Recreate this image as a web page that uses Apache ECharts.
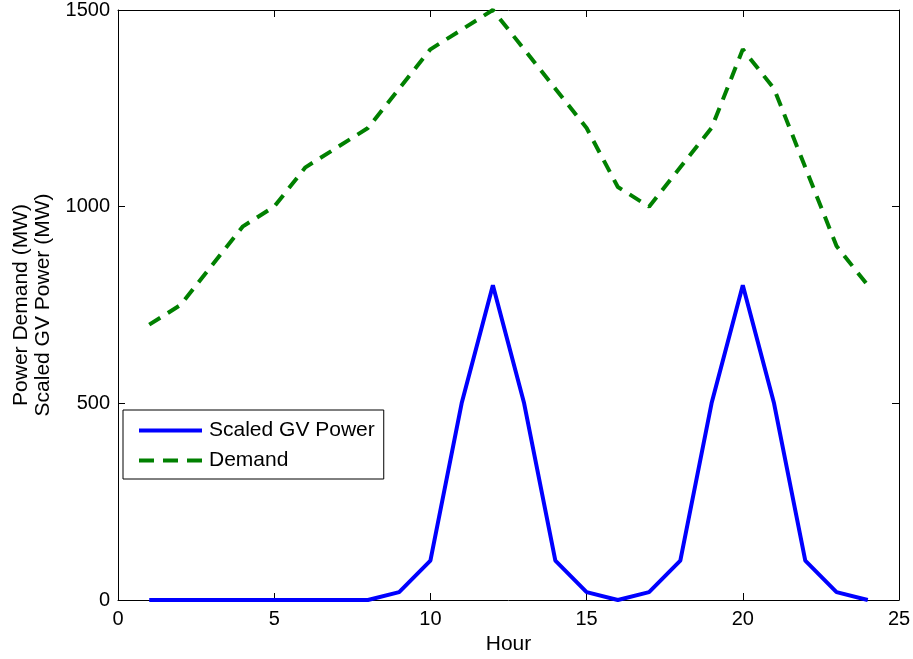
<!DOCTYPE html>
<html>
<head>
<meta charset="utf-8">
<script src="https://cdn.jsdelivr.net/npm/echarts@6/dist/echarts.min.js"></script>
<style>
html,body{margin:0;padding:0;background:#fff;}
#chart{width:913px;height:659px;}
</style>
</head>
<body>
<div id="chart"></div>
<script>
const hours = [1,2,3,4,5,6,7,8,9,10,11,12,13,14,15,16,17,18,19,20,21,22,23,24];
const gvPower = [0,0,0,0,0,0,0,0,20,100,500,800,500,100,20,0,20,100,500,800,500,100,20,0];
const demand = [700,750,850,950,1000,1100,1150,1200,1300,1400,1450,1500,1400,1300,1200,1050,1000,1100,1200,1400,1300,1100,900,800];
const xTicks = [0,5,10,15,20,25];
const yTicks = [0,500,1000,1500];

const FONT = '"Liberation Sans", Arial, Helvetica, sans-serif';
const chart = echarts.init(document.getElementById('chart'), null, {renderer:'canvas'});

const axisCommon = {
  axisLine:{show:true, onZero:false, lineStyle:{color:'#000', width:1}},
  axisTick:{show:true, inside:true, length:7, lineStyle:{color:'#000', width:1}},
  splitLine:{show:false}
};

chart.setOption({
  animation:false,
  backgroundColor:'#fff',
  grid:{left:118, right:14, top:10, bottom:59, containLabel:false, outerBoundsMode:'none'},
  legend:{
    left:123, top:410, orient:'vertical',
    data:[
      {name:'Scaled GV Power', lineStyle:{width:4, type:'solid'}},
      {name:'Demand', lineStyle:{width:4, type:[15,9]}}
    ],
    itemWidth:63, itemHeight:20, itemGap:9,
    padding:[10,9,8,14],
    borderColor:'#000', borderWidth:1, backgroundColor:'#fff',
    itemStyle:{opacity:0},
    textStyle:{fontFamily:FONT, fontSize:21, color:'#000', lineHeight:20, padding:[0,0,0,2]}
  },
  xAxis:[
    Object.assign({type:'value', position:'bottom', min:xTicks[0], max:xTicks[xTicks.length-1], interval:5,
      name:'Hour', nameLocation:'middle', nameGap:33,
      nameTextStyle:{fontFamily:FONT, fontSize:21, color:'#000'},
      axisLabel:{fontFamily:FONT, fontSize:20, color:'#000', margin:9, formatter:v=>String(v)}}, axisCommon),
    Object.assign({type:'value', position:'top', min:xTicks[0], max:xTicks[xTicks.length-1], interval:5,
      axisLabel:{show:false}}, axisCommon)
  ],
  yAxis:[
    Object.assign({type:'value', position:'left', min:yTicks[0], max:yTicks[yTicks.length-1], interval:500,
      name:'Power Demand (MW)\nScaled GV Power (MW)', nameLocation:'middle', nameGap:64, nameRotate:90,
      nameTextStyle:{fontFamily:FONT, fontSize:21, color:'#000', lineHeight:22},
      axisLabel:{fontFamily:FONT, fontSize:20, color:'#000', margin:8, formatter:v=>String(v)}}, axisCommon),
    Object.assign({type:'value', position:'right', min:yTicks[0], max:yTicks[yTicks.length-1], interval:500,
      axisLabel:{show:false}}, axisCommon)
  ],
  series:[
    {name:'Scaled GV Power', type:'line', xAxisIndex:0, yAxisIndex:0, symbol:'none',
     data:hours.map((h,i)=>[h,gvPower[i]]),
     itemStyle:{color:'#0000ff'},
     lineStyle:{color:'#0000ff', width:4, type:'solid'}},
    {name:'Demand', type:'line', xAxisIndex:0, yAxisIndex:0, symbol:'none',
     data:hours.map((h,i)=>[h,demand[i]]),
     itemStyle:{color:'#008000'},
     lineStyle:{color:'#008000', width:4, type:[13,9]}}
  ]
});
</script>
</body>
</html>
